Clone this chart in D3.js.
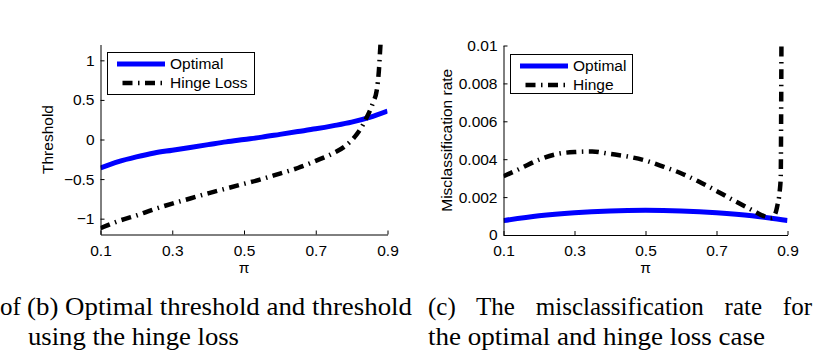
<!DOCTYPE html>
<html>
<head>
<meta charset="utf-8">
<script src="https://cdn.jsdelivr.net/npm/d3@7"></script>
<style>
    body { margin: 0; background: #fff; }
    svg { display: block; }
    .tick text, .lbl, .leg { font-family: "Liberation Sans", Arial, sans-serif; font-size: 15.5px; fill: #000; }
    .cap { font-family: "Liberation Serif", "Times New Roman", serif; font-size: 25px; fill: #000; }
</style>
</head>
<body>
<svg id="fig" width="829" height="361"></svg>
<script>
// (b) threshold vs pi
var piTh = [0.1, 0.15, 0.2, 0.25, 0.3, 0.35, 0.4, 0.45, 0.5, 0.55, 0.6, 0.65, 0.7, 0.75, 0.8, 0.85, 0.9];
var thOptimal = [-0.36, -0.28, -0.22, -0.17, -0.135, -0.10, -0.065, -0.03, 0, 0.03, 0.065, 0.10, 0.135, 0.175, 0.22, 0.28, 0.36];
var piThHinge = [0.1, 0.15, 0.2, 0.25, 0.3, 0.35, 0.4, 0.45, 0.5, 0.55, 0.6, 0.65, 0.7, 0.75, 0.78, 0.8, 0.82, 0.84, 0.86, 0.87, 0.876, 0.88, 0.885];
var thHinge = [-1.12, -1.03, -0.96, -0.88, -0.81, -0.745, -0.68, -0.62, -0.56, -0.5, -0.43, -0.36, -0.27, -0.17, -0.09, -0.01, 0.10, 0.26, 0.47, 0.62, 0.87, 1.17, 1.5];

// (c) misclassification rate vs pi
var piMis = [0.1, 0.2, 0.3, 0.4, 0.5, 0.6, 0.7, 0.8, 0.85, 0.9];
var misOptimal = [0.00076, 0.00102, 0.00118, 0.00127, 0.0013, 0.00127, 0.00118, 0.00102, 0.0009, 0.00076];
var piMisHinge = [0.1, 0.15, 0.2, 0.25, 0.3, 0.35, 0.4, 0.45, 0.5, 0.55, 0.6, 0.65, 0.7, 0.75, 0.8, 0.84, 0.855, 0.865, 0.872, 0.878, 0.881, 0.882, 0.883];
var misHinge = [0.0031, 0.00353, 0.00397, 0.00427, 0.00438, 0.00441, 0.00428, 0.00414, 0.00393, 0.00361, 0.00326, 0.00282, 0.00233, 0.00181, 0.00132, 0.00095, 0.0009, 0.0011, 0.0016, 0.0023, 0.0031, 0.006, 0.0105];

var xTicks = [0.1, 0.3, 0.5, 0.7, 0.9];
var thTicks = [-1, -0.5, 0, 0.5, 1];
var misTicks = [0, 0.002, 0.004, 0.006, 0.008, 0.01];

const optColor = "#0000ff",
    hingeDash = "10,5.5,1.5,5.5";

var svg = d3.select("#fig");
svg.append("rect").attr("width", 829).attr("height", 361).attr("fill", "#fff");

function fmt(d) {
    return String(d).replace("-", "\u2212");
}

function drawPanel(p) {
    var x = d3.scaleLinear().domain([0.1, 0.9]).range([p.left, p.right]),
        y = d3.scaleLinear().domain(p.yDomain).range([p.bottom, p.top]);

    var g = svg.append("g");

    g.append("clipPath").attr("id", p.id + "-clip")
        .append("rect")
        .attr("x", p.left).attr("y", p.top)
        .attr("width", p.right - p.left).attr("height", p.bottom - p.top);

    var line = d3.line()
        .x(function(d) { return x(d[0]); })
        .y(function(d) { return y(d[1]); })
        .curve(d3.curveMonotoneX);

    var plot = g.append("g").attr("clip-path", "url(#" + p.id + "-clip)");

    plot.append("path")
        .datum(d3.zip(p.xOpt, p.yOpt))
        .attr("d", line)
        .attr("fill", "none")
        .attr("stroke", optColor)
        .attr("stroke-width", 5);

    plot.append("path")
        .datum(d3.zip(p.xHinge, p.yHinge))
        .attr("d", line)
        .attr("fill", "none")
        .attr("stroke", "#000")
        .attr("stroke-width", 4.5)
        .attr("stroke-dasharray", hingeDash);

    g.append("g")
        .attr("transform", "translate(0," + p.bottom + ")")
        .call(d3.axisBottom(x).tickValues(xTicks).tickFormat(fmt)
            .tickSizeInner(-4).tickSizeOuter(0).tickPadding(10));

    g.append("g")
        .attr("transform", "translate(" + p.left + ",0)")
        .call(d3.axisLeft(y).tickValues(p.yTicks).tickFormat(fmt)
            .tickSizeInner(-4).tickSizeOuter(0).tickPadding(6));

    g.selectAll(".domain").attr("stroke", "#000");
    g.selectAll(".tick line").attr("stroke", "#000");
    g.selectAll(".tick text").attr("font-family", null).attr("font-size", null);

    g.append("text")
        .attr("class", "lbl")
        .attr("x", (p.left + p.right) / 2)
        .attr("y", 273)
        .attr("text-anchor", "middle")
        .text("\u03c0");

    g.append("text")
        .attr("class", "lbl")
        .attr("transform", "translate(" + p.yLabelX + "," + ((p.top + p.bottom) / 2) + ") rotate(-90)")
        .attr("text-anchor", "middle")
        .text(p.yLabel);

    // legend
    var lg = g.append("g").attr("transform", "translate(" + p.leg[0] + "," + p.leg[1] + ")");
    lg.append("rect")
        .attr("x", 0.5).attr("y", 0.5)
        .attr("width", p.leg[2]).attr("height", p.leg[3])
        .attr("fill", "#fff").attr("stroke", "#000").attr("stroke-width", 1);
    lg.append("line")
        .attr("x1", 10).attr("x2", 58).attr("y1", 12).attr("y2", 12)
        .attr("stroke", optColor).attr("stroke-width", 5);
    lg.append("line")
        .attr("x1", 10).attr("x2", 58).attr("y1", 31).attr("y2", 31)
        .attr("stroke", "#000").attr("stroke-width", 4.5)
        .attr("stroke-dasharray", hingeDash).attr("stroke-dashoffset", 17);
    lg.append("text").attr("class", "leg").attr("x", 63).attr("y", 12).attr("dy", "0.35em").text("Optimal");
    lg.append("text").attr("class", "leg").attr("x", 63).attr("y", 31).attr("dy", "0.35em").text(p.hingeName);
}

drawPanel({
    id: "b", left: 100.5, right: 387.5, top: 44.5, bottom: 234.5,
    yDomain: [-1.2, 1.2], yTicks: thTicks, yLabel: "Threshold", yLabelX: 53,
    xOpt: piTh, yOpt: thOptimal, xHinge: piThHinge, yHinge: thHinge,
    hingeName: "Hinge Loss", leg: [107, 52, 147, 42]
});

drawPanel({
    id: "c", left: 503.5, right: 787.5, top: 45.5, bottom: 235,
    yDomain: [0, 0.01], yTicks: misTicks, yLabel: "Misclassification rate", yLabelX: 452,
    xOpt: piMis, yOpt: misOptimal, xHinge: piMisHinge, yHinge: misHinge,
    hingeName: "Hinge", leg: [510, 54, 122, 39]
});

// captions: "glyphs" stretches letters to the width, "words" justifies by word spacing
function caption(x, y, str, width, mode) {
    var t = svg.append("text").attr("class", "cap").attr("x", x).attr("y", y).text(str);
    if (mode == "glyphs") {
        t.attr("textLength", width).attr("lengthAdjust", "spacingAndGlyphs");
    } else if (mode == "words") {
        var natural = t.node().getComputedTextLength(),
            gaps = str.split(" ").length - 1;
        t.attr("word-spacing", ((width - natural) / gaps) + "px");
    }
    return t;
}

caption(0, 315, "of");
caption(27, 315, "(b) Optimal threshold and threshold", 385, "glyphs");
caption(28, 345, "using the hinge loss", 211, "glyphs");
caption(428, 315, "(c) The misclassification rate for", 384, "words");
caption(428, 345, "the optimal and hinge loss case", 337, "glyphs");
</script>
</body>
</html>
